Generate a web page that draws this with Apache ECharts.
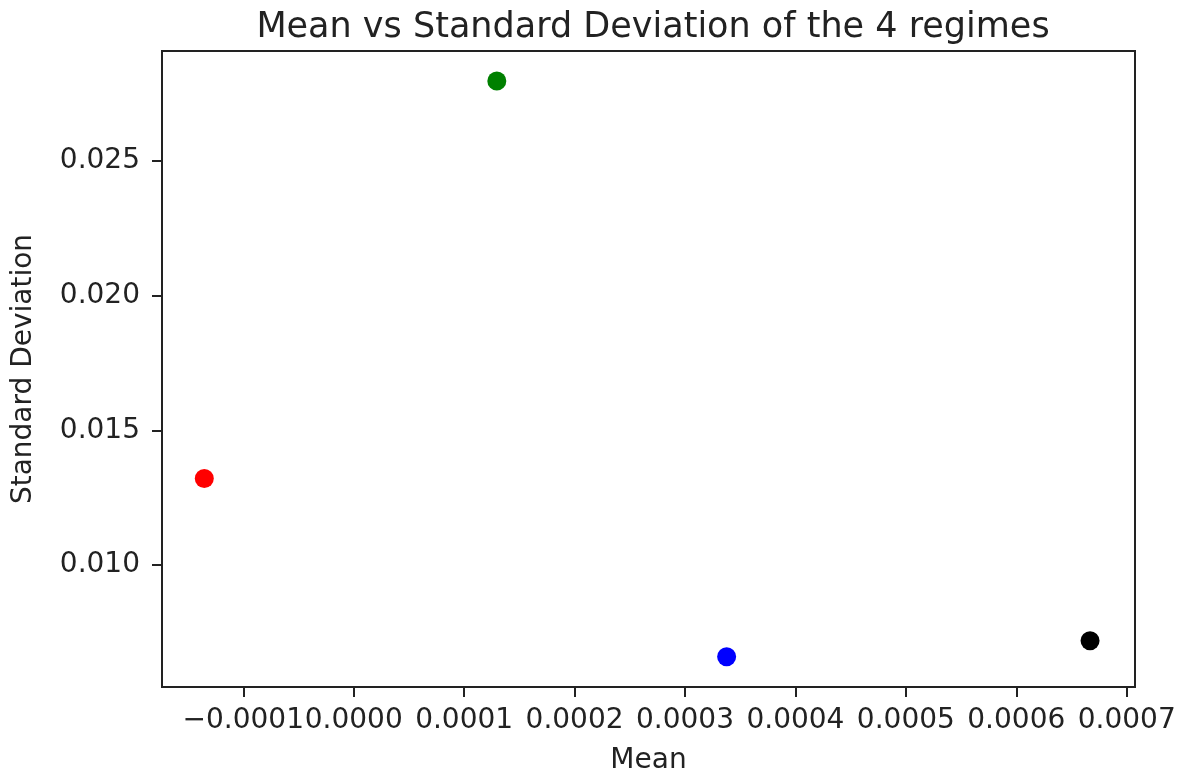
<!DOCTYPE html>
<html>
<head>
<meta charset="utf-8">
<script src="https://cdn.jsdelivr.net/npm/echarts@6/dist/echarts.min.js"></script>
<style>
  html, body { margin: 0; padding: 0; background: #fff; }
  #main { width: 1181px; height: 778px; }
</style>
</head>
<body>
<div id="main"></div>
<script>
// regimes: mean and standard deviation
var regimes = ["regime 0", "regime 1", "regime 2", "regime 3"];
var means = [-0.0001353, 0.0001296, 0.0003377, 0.0006668];
var stds = [0.01321, 0.02796, 0.0066, 0.00719];
var colors = ["#ff0000", "#008000", "#0000ff", "#000000"];

// tick labels
var xTicks = [-0.0001, 0.0000, 0.0001, 0.0002, 0.0003, 0.0004, 0.0005, 0.0006, 0.0007];
var yTicks = [0.010, 0.015, 0.020, 0.025];

window.onload = function () {
    var chart = echarts.init(document.getElementById("main"));
    var font = "DejaVu Sans";

    var points = [];
    for (var i = 0; i < means.length; i++) {
        points.push({
            name: regimes[i],
            value: [means[i], stds[i]],
            itemStyle: { color: colors[i], opacity: 1 }
        });
    }

    function fmtX(v) {
        var s = Number(v).toFixed(4);
        return s.replace("-", "\u2212");
    }

    var option = {
        backgroundColor: "#fff",
        animation: false,
        title: {
            text: "Mean vs Standard Deviation of the 4 regimes",
            left: 648,
            textAlign: "center",
            top: 5,
            textStyle: { fontFamily: font, fontSize: 35, fontWeight: "normal", color: "#222" }
        },
        grid: {
            left: 162, right: 46, top: 51, bottom: 91,
            outerBoundsMode: "none",
            show: true,
            borderColor: "#222",
            borderWidth: 2
        },
        xAxis: {
            type: "value",
            min: -0.0001736,
            max: 0.0007075,
            name: "Mean",
            nameLocation: "middle",
            nameGap: 60,
            nameTextStyle: { fontFamily: font, fontSize: 28, color: "#222" },
            axisLine: { show: true, onZero: false, lineStyle: { color: "#222", width: 2 } },
            axisTick: { show: true, length: 10, customValues: xTicks, lineStyle: { color: "#222", width: 2 } },
            axisLabel: {
                customValues: xTicks,
                margin: 20,
                fontFamily: font, fontSize: 28, color: "#222",
                formatter: fmtX
            },
            splitLine: { show: false }
        },
        yAxis: {
            type: "value",
            min: 0.005475,
            max: 0.02907,
            name: "Standard Deviation",
            nameLocation: "middle",
            nameGap: 124,
            nameTextStyle: { fontFamily: font, fontSize: 28, color: "#222" },
            axisLine: { show: true, onZero: false, lineStyle: { color: "#222", width: 2 } },
            axisTick: { show: true, length: 10, customValues: yTicks, lineStyle: { color: "#222", width: 2 } },
            axisLabel: {
                customValues: yTicks,
                margin: 22,
                fontFamily: font, fontSize: 28, color: "#222",
                formatter: function (v) { return Number(v).toFixed(3); }
            },
            splitLine: { show: false }
        },
        series: [{
            type: "scatter",
            symbol: "circle",
            symbolSize: 19,
            data: points
        }]
    };
    chart.setOption(option);
};
</script>
</body>
</html>
